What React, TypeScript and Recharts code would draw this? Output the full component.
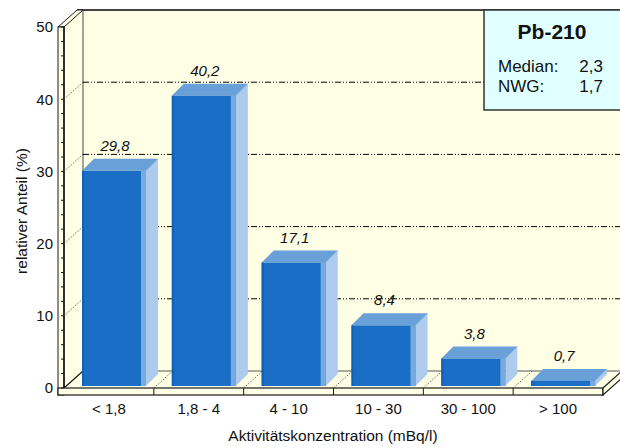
import React from 'react';
import { BarChart, Bar, XAxis, YAxis, CartesianGrid, LabelList } from 'recharts';

// Share of samples per activity-concentration class (Pb-210)
const categories = ['< 1,8', '1,8 - 4', '4 - 10', '10 - 30', '30 - 100', '> 100'];
const shares = [29.8, 40.2, 17.1, 8.4, 3.8, 0.7];
const yTicks = [0, 2, 4, 6, 8, 10, 12, 14, 16, 18, 20, 22, 24, 26, 28, 30, 32, 34, 36, 38, 40, 42, 44, 46, 48, 50];
const gridValues = [10, 20, 30, 40];
const nuclide = 'Pb-210';
const statNames = ['Median:', 'NWG:'];
const statValues = ['2,3', '1,7'];
const xTitle = 'Aktivitätskonzentration (mBq/l)';
const yTitle = 'relativer Anteil (%)';

const data = categories.map((name, i) => ({ name, share: shares[i] }));

// frame geometry
const W = 620;
const H = 448;
const LEFT = 64;
const RIGHT = 603;
const TOP = 27;
const BOTTOM = 388;
const DX = 19; // wall depth (x)
const DY = 17; // wall depth (y)
const SLAB = 6; // axis wall thickness
const FLOOR_T = 7; // floor slab thickness
const BAND = (RIGHT - LEFT) / categories.length;

// bar prism geometry
const BAR_W = 64;
const BAR_SHIFT = 5;
const BAR_LIFT = 2;
const BAR_D = 12;

const FONT = '"Liberation Sans", Arial, Helvetica, sans-serif';
const WALL = '#FFFFE6';
const EDGE = '#1a1a1a';
const FRONT = '#1A6EC5';
const FRONT_DARK = '#0E60BA';
const FRONT_LIGHT = '#78AADF';
const SIDE = '#ADCBEC';
const TOPFACE = '#6AA0D8';
const LEGEND_BG = '#E0FFFF';

const fmt = (v: number) => v.toFixed(1).replace('.', ',');

const Prism = (props: any) => {
  const { x, y, width, height } = props;
  if (x == null || y == null) return null;
  const fx = x + BAR_SHIFT;
  const top = y - BAR_LIFT;
  const base = y + height - BAR_LIFT;
  const w = width;
  const d = BAR_D;
  return (
    <g>
      <polygon
        points={`${fx + w},${top} ${fx + w + d},${top - d} ${fx + w + d},${base - d} ${fx + w},${base}`}
        fill={SIDE}
      />
      <polygon
        points={`${fx},${top} ${fx + d},${top - d} ${fx + w + d},${top - d} ${fx + w},${top}`}
        fill={TOPFACE}
      />
      <line x1={fx + w} y1={top} x2={fx + w + d} y2={top - d} stroke="#8DB8E6" strokeWidth={1} />
      <rect x={fx} y={top} width={w} height={Math.max(base - top, 0)} fill={FRONT} />
      <rect x={fx} y={top} width={2} height={Math.max(base - top, 0)} fill={FRONT_DARK} />
      <rect x={fx + w - 5} y={top} width={5} height={Math.max(base - top, 0)} fill={FRONT_LIGHT} />
    </g>
  );
};

const ValueLabel = (props: any) => {
  const { x, y, width, value } = props;
  if (x == null || y == null) return null;
  return (
    <text
      x={x + width / 2 + BAR_SHIFT + 1}
      y={y - BAR_LIFT - 20}
      textAnchor="middle"
      fontFamily={FONT}
      fontSize={15}
      fontStyle="italic"
      fill="#111"
    >
      {fmt(Number(value))}
    </text>
  );
};

const YTick = (props: any) => {
  const { y, payload } = props;
  const v = Number(payload.value);
  const major = v % 10 === 0;
  return (
    <g>
      <line x1={LEFT - 3} x2={LEFT} y1={y} y2={y} stroke={EDGE} strokeWidth={1} />
      {major && (
        <text
          x={LEFT - 11}
          y={y}
          dy="0.36em"
          textAnchor="end"
          fontFamily={FONT}
          fontSize={15}
          fill="#111"
        >
          {v}
        </text>
      )}
    </g>
  );
};

const XTick = (props: any) => {
  const { x, payload, index } = props;
  const b = x + BAND / 2;
  const inner = index < categories.length - 1;
  return (
    <g>
      <text
        x={x}
        y={BOTTOM + 26}
        textAnchor="middle"
        fontFamily={FONT}
        fontSize={15}
        fill="#111"
      >
        {payload.value}
      </text>
      {inner && (
        <g>
          <line x1={b} x2={b} y1={BOTTOM} y2={BOTTOM + FLOOR_T} stroke={EDGE} strokeWidth={1} />
          <line
            x1={b}
            y1={BOTTOM}
            x2={b + DX}
            y2={BOTTOM - DY}
            stroke="#444"
            strokeWidth={0.8}
            strokeDasharray="1.5 1.5"
          />
        </g>
      )}
    </g>
  );
};

const GridLine = (props: any) => {
  const { x1, y1 } = props;
  return (
    <g key={props.key}>
      <line
        x1={x1}
        y1={y1}
        x2={x1 + DX}
        y2={y1 - DY}
        stroke="#444"
        strokeWidth={0.8}
        strokeDasharray="1.5 1.5"
      />
      <line
        x1={x1 + DX}
        y1={y1 - DY}
        x2={W}
        y2={y1 - DY}
        stroke="#000"
        strokeWidth={1}
        strokeDasharray="6 2 1 2 1 2"
      />
    </g>
  );
};

const Backdrop = () => (
  <svg width={W} height={H} style={{ position: 'absolute', left: 0, top: 0 }}>
    {/* back wall */}
    <rect x={LEFT + DX} y={TOP - DY} width={W - LEFT - DX + 2} height={BOTTOM - TOP} fill={WALL} />
    {/* side wall */}
    <polygon
      points={`${LEFT},${TOP} ${LEFT + DX},${TOP - DY} ${LEFT + DX},${BOTTOM - DY} ${LEFT},${BOTTOM}`}
      fill={WALL}
    />
    {/* floor */}
    <polygon
      points={`${LEFT},${BOTTOM} ${LEFT + DX},${BOTTOM - DY} ${W + 2},${BOTTOM - DY} ${RIGHT},${BOTTOM}`}
      fill={WALL}
    />
    <line x1={LEFT + DX} y1={TOP - DY} x2={LEFT + DX} y2={BOTTOM - DY} stroke="#666" strokeWidth={1.2} />
    <line x1={LEFT + DX} y1={BOTTOM - DY} x2={W} y2={BOTTOM - DY} stroke="#555" strokeWidth={1} />
    <line x1={LEFT - SLAB + DX} y1={TOP - DY} x2={W} y2={TOP - DY} stroke="#444" strokeWidth={2} />
    <line x1={LEFT} y1={BOTTOM} x2={LEFT + DX} y2={BOTTOM - DY} stroke={EDGE} strokeWidth={1.2} />
    {/* axis wall */}
    <polygon
      points={`${LEFT - SLAB},${TOP} ${LEFT - SLAB + DX},${TOP - DY} ${LEFT + DX},${TOP - DY} ${LEFT},${TOP}`}
      fill={WALL}
      stroke={EDGE}
      strokeWidth={1}
    />
    <rect x={LEFT - SLAB} y={TOP} width={SLAB} height={BOTTOM + FLOOR_T - TOP} fill={WALL} stroke={EDGE} strokeWidth={1} />
    <line x1={LEFT} y1={TOP} x2={LEFT} y2={BOTTOM + FLOOR_T} stroke={EDGE} strokeWidth={1.6} />
    {/* floor slab */}
    <rect x={LEFT - SLAB} y={BOTTOM} width={RIGHT - LEFT + SLAB} height={FLOOR_T} fill={WALL} stroke={EDGE} strokeWidth={1.2} />
    <polygon
      points={`${RIGHT},${BOTTOM} ${RIGHT + DX},${BOTTOM - DY} ${RIGHT + DX},${BOTTOM - DY + FLOOR_T} ${RIGHT},${BOTTOM + FLOOR_T}`}
      fill={WALL}
      stroke={EDGE}
      strokeWidth={1.2}
    />
    {/* axis titles */}
    <text
      x={333}
      y={441}
      textAnchor="middle"
      fontFamily={FONT}
      fontSize={15.5}
      fill="#111"
    >
      {xTitle}
    </text>
    <text
      x={0}
      y={0}
      transform="translate(27,211) rotate(-90)"
      textAnchor="middle"
      fontFamily={FONT}
      fontSize={15.5}
      fill="#111"
    >
      {yTitle}
    </text>
  </svg>
);

const LegendBox = () => (
  <svg width={W} height={H} style={{ position: 'absolute', left: 0, top: 0, pointerEvents: 'none' }}>
    <rect x={484} y={TOP - DY} width={140} height={100} fill={LEGEND_BG} stroke="#333" strokeWidth={1.5} />
    <text x={552} y={39} textAnchor="middle" fontFamily={FONT} fontSize={21} fontWeight="bold" fill="#111">
      {nuclide}
    </text>
    {statNames.map((n, i) => (
      <g key={n}>
        <text x={498} y={72 + i * 20} fontFamily={FONT} fontSize={17} fill="#111">
          {n}
        </text>
        <text x={603} y={72 + i * 20} textAnchor="end" fontFamily={FONT} fontSize={17} fill="#111">
          {statValues[i]}
        </text>
      </g>
    ))}
  </svg>
);

export default function App() {
  return (
    <div
      style={{
        position: 'absolute',
        left: 0,
        top: 0,
        width: W,
        height: H,
        background: '#fff',
        overflow: 'hidden',
      }}
    >
      <Backdrop />
      <div style={{ position: 'absolute', left: 0, top: 0 }}>
        <BarChart
          width={W}
          height={H}
          data={data}
          margin={{ top: TOP, right: W - RIGHT, bottom: 0, left: 0 }}
        >
          <CartesianGrid
            vertical={false}
            horizontal={GridLine}
            horizontalValues={gridValues}
            stroke="#000"
          />
          <XAxis
            dataKey="name"
            height={H - BOTTOM}
            axisLine={false}
            tickLine={false}
            interval={0}
            tick={<XTick />}
          />
          <YAxis
            width={LEFT}
            domain={[0, 50]}
            ticks={yTicks}
            interval={0}
            axisLine={false}
            tickLine={false}
            tick={<YTick />}
          />
          <Bar dataKey="share" barSize={BAR_W} shape={Prism} isAnimationActive={false}>
            <LabelList dataKey="share" content={ValueLabel} />
          </Bar>
        </BarChart>
      </div>
      <LegendBox />
    </div>
  );
}
